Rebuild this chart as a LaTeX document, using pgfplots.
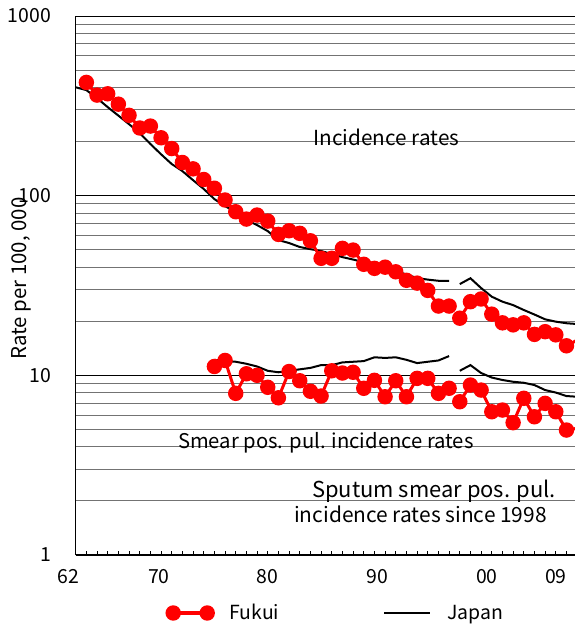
\documentclass[border=0pt]{standalone}
\usepackage{fontspec}
\setmainfont{Noto Sans CJK JP}
\usepackage{pgfplots}
\pgfplotsset{compat=1.18}
\pgfplotsset{
  fukuileg/.style={legend image code/.code={\draw[##1] plot coordinates {(0bp,0bp) (34bp,0bp)};}},
  japanleg/.style={legend image code/.code={\draw[##1] (0bp,0bp) -- (46bp,0bp);}},
}
\begin{document}
\begin{tikzpicture}
\begin{axis}[
  at={(0,0)}, anchor=south west,
  scale only axis, width=499.3bp, height=539bp,
  xmin=1961, xmax=2007.8,
  ymode=log, ymin=1, ymax=1000,
  axis x line*=bottom, axis y line*=left,
  axis line style={line width=1.2bp, black},
  xtick={1968.8,1979.0,1989.3,1999.55,2006.0},
  xticklabels={70,80,90,00,09},
  extra x ticks={1961},
  extra x tick labels={62},
  extra x tick style={xticklabel style={xshift=-7.2bp}},
  minor xtick={1962,1963,...,2007},
  ytick={1,10,100,1000},
  yticklabels={1,10,100,1000},
  minor ytick={2,3,...,9,20,30,...,90,200,300,...,900},
  major tick length=0pt, minor tick length=4.5bp, tick align=inside,
  tick style={black, line width=0.9bp},
  ytick style={draw=none},
  ymajorgrids, yminorgrids,
  major grid style={black, line width=0.9bp},
  minor grid style={black!55, line width=0.9bp},
  /pgf/number format/assume math mode=true,
  xticklabel style={anchor=base, inner sep=0pt, yshift=-28.3bp, font=\fontsize{19.5}{20}\selectfont},
  yticklabel style={anchor=east, inner sep=0pt, xshift=-24.7bp, font=\fontsize{19.5}{20}\selectfont},
  ylabel={Rate per 100, 000},
  every axis y label/.style={at={(axis description cs:-0.1096,0.513)}, rotate=90, anchor=center, font=\fontsize{20.5}{22}\selectfont},
  legend style={at={(axis description cs:0.1825,-0.1076)}, anchor=west, draw=none, fill=none, inner sep=0pt,
    legend columns=2, font=\fontsize{19.5}{20}\selectfont,
    /tikz/every odd column/.append style={column sep=14bp},
    /tikz/every even column/.append style={column sep=102bp}},
]
% legend
\addlegendimage{red, line width=3bp, mark=*, mark size=6.2bp, mark options={solid, fill=red, draw=none}, fukuileg}
\addlegendentry{Fukui}
\addlegendimage{black, line width=2bp, japanleg}
\addlegendentry{Japan}

% Japan incidence
\addplot[black, line width=2bp, forget plot] coordinates {
(1961,401) (1962,387) (1963,349) (1964,311) (1965,279) (1966,250) (1967,223) (1968,194)
(1969,170) (1970,150) (1971,137) (1972,122) (1973,109) (1974,95.7) (1975,87.5) (1976,81)
(1977,73.2) (1978,68.6) (1979,63.5) (1980,56.6) (1981,54.5) (1982,51.8) (1983,50.4) (1984,49.2)
(1985,47.3) (1986,45.5) (1987,44.1) (1988,42.7) (1989,41.6) (1990,40.1) (1991,38.1) (1992,36.4)
(1993,34.8) (1994,34.1) (1995,33.6) (1996,33.6)};
\addplot[black, line width=2bp, forget plot] coordinates {
(1997,32.2) (1998,34.7) (1999,30.6) (2000,27.4) (2001,25.7) (2002,24.6) (2003,23.1) (2004,21.8)
(2005,20.5) (2006,19.9) (2007,19.5) (2008,19.3)};
% Japan smear
\addplot[black, line width=2bp, forget plot] coordinates {
(1974,12.2) (1975,12.0) (1976,11.9) (1977,11.6) (1978,11.2) (1979,10.6) (1980,10.4) (1981,10.6)
(1982,10.8) (1983,11.0) (1984,11.4) (1985,11.4) (1986,11.8) (1987,11.9) (1988,12.0) (1989,12.6)
(1990,12.5) (1991,12.6) (1992,12.2) (1993,11.7) (1994,11.9) (1995,12.1) (1996,12.8)};
\addplot[black, line width=2bp, forget plot] coordinates {
(1997,10.6) (1998,11.4) (1999,10.3) (2000,9.72) (2001,9.42) (2002,9.21) (2003,9.09) (2004,8.83)
(2005,8.28) (2006,8.02) (2007,7.67) (2008,7.60)};

% Fukui incidence
\addplot[red, line width=3bp, mark=*, mark size=6.2bp, mark options={solid, fill=red, draw=none}, forget plot] coordinates {
(1962,427) (1963,363) (1964,369) (1965,323) (1966,280) (1967,238) (1968,244) (1969,210)
(1970,183) (1971,153) (1972,141) (1973,123) (1974,110) (1975,94.6) (1976,81.4) (1977,74.1)
(1978,78) (1979,72.2) (1980,60.9) (1981,63.8) (1982,61.7) (1983,56.1) (1984,44.8) (1985,44.8)
(1986,50.9) (1987,49.8) (1988,41.5) (1989,39.4) (1990,40.0) (1991,37.7) (1992,33.8) (1993,32.6)
(1994,29.7) (1995,24.3) (1996,24.3)};
\addplot[red, line width=3bp, mark=*, mark size=6.2bp, mark options={solid, fill=red, draw=none}, forget plot] coordinates {
(1997,20.8) (1998,25.7) (1999,26.6) (2000,21.9) (2001,19.6) (2002,19.1) (2003,19.6) (2004,16.9)
(2005,17.5) (2006,16.8) (2007,14.6) (2008,15.7)};
% Fukui smear
\addplot[red, line width=3bp, mark=*, mark size=6.2bp, mark options={solid, fill=red, draw=none}, forget plot] coordinates {
(1974,11.2) (1975,12.1) (1976,7.94) (1977,10.2) (1978,10.0) (1979,8.58) (1980,7.50) (1981,10.5)
(1982,9.33) (1983,8.15) (1984,7.67) (1985,10.6) (1986,10.3) (1987,10.4) (1988,8.47) (1989,9.38)
(1990,7.60) (1991,9.33) (1992,7.60) (1993,9.62) (1994,9.62) (1995,7.94) (1996,8.47)};
\addplot[red, line width=3bp, mark=*, mark size=6.2bp, mark options={solid, fill=red, draw=none}, forget plot] coordinates {
(1997,7.13) (1998,8.83) (1999,8.28) (2000,6.27) (2001,6.41) (2002,5.45) (2003,7.45) (2004,5.88)
(2005,6.98) (2006,6.27) (2007,4.96) (2008,5.07)};
\end{axis}
\node[anchor=base west, inner sep=0pt, font=\fontsize{20.8}{24}\selectfont] at (237.6bp,409.3bp) {Incidence rates};
\node[anchor=base west, inner sep=0pt, font=\fontsize{20.3}{24}\selectfont] at (102.3bp,106.7bp) {Smear pos. pul. incidence rates};
\node[anchor=base west, inner sep=0pt, font=\fontsize{22}{24}\selectfont] at (236.3bp,57.7bp) {Sputum smear pos. pul.};
\node[anchor=base west, inner sep=0pt, font=\fontsize{21}{24}\selectfont] at (218.3bp,32.7bp) {incidence rates since 1998};
\pgfresetboundingbox
\useasboundingbox (-75.7bp,-70bp) rectangle (499.3bp,555bp);
\end{tikzpicture}
\end{document}
